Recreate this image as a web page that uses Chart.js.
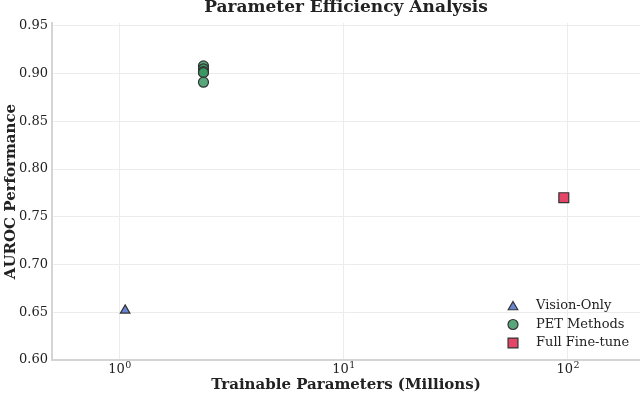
<!DOCTYPE html>
<html>
<head>
<meta charset="utf-8">
<script src="https://cdn.jsdelivr.net/npm/chart.js@4"></script>
<style>
    html, body { margin: 0; padding: 0; background: #fff; }
    #wrap { width: 640px; height: 394px; position: relative; }
</style>
</head>
<body>
<div id="wrap"><canvas id="chart"></canvas></div>
<script>
/* Parameter efficiency scatter (log x) */

const visionX = [1.06];
const visionY = [0.652];
const petX = [2.37, 2.37, 2.37, 2.37, 2.37];
const petY = [0.908, 0.905, 0.902, 0.901, 0.891];
const fullX = [96];
const fullY = [0.770];

const xTicks = [1, 10, 100];
const yTicks = [0.60, 0.65, 0.70, 0.75, 0.80, 0.85, 0.90, 0.95];

const SERIES = [
    { label: "Vision-Only", xs: visionX, ys: visionY, style: "triangle", color: "rgba(86,120,205,0.9)", radius: 5.5 },
    { label: "PET Methods", xs: petX, ys: petY, style: "circle", color: "rgba(58,152,100,0.85)", radius: 5 },
    { label: "Full Fine-tune", xs: fullX, ys: fullY, style: "rect", color: "rgba(226,60,95,0.95)", radius: 7 },
];

const SERIF = "'DejaVu Serif', serif";

function toPoints(xs, ys) {
    return xs.map((x, i) => ({ x, y: ys[i] }));
}

/* ---------- Plugins: title, x tick labels, in-plot legend ---------- */

const titlePlugin = {
    id: "topTitle",
    afterDraw(chart) {
        const { ctx, chartArea } = chart;
        ctx.save();
        ctx.font = `bold 17px ${SERIF}`;
        ctx.fillStyle = "#222";
        ctx.textAlign = "center";
        ctx.textBaseline = "alphabetic";
        ctx.fillText("Parameter Efficiency Analysis", (chartArea.left + chartArea.right) / 2, 12);
        ctx.restore();
    }
};

// powers of ten with a real superscript exponent
const logTickPlugin = {
    id: "logTicks",
    afterDraw(chart) {
        const { ctx, chartArea, scales } = chart;
        const y = chartArea.bottom + 8;
        ctx.save();
        ctx.fillStyle = "#222";
        ctx.textBaseline = "middle";
        xTicks.forEach(v => {
            const px = scales.x.getPixelForValue(v);
            const exp = String(Math.round(Math.log10(v)));
            ctx.font = `13px ${SERIF}`;
            const wBase = ctx.measureText("10").width;
            ctx.font = `9.5px ${SERIF}`;
            const wExp = ctx.measureText(exp).width;
            const x0 = px - (wBase + wExp) / 2;
            ctx.font = `13px ${SERIF}`;
            ctx.textAlign = "left";
            ctx.fillText("10", x0, y + 2);
            ctx.font = `9.5px ${SERIF}`;
            ctx.fillText(exp, x0 + wBase + 0.5, y - 2.5);
        });
        ctx.restore();
    }
};

function drawMarker(ctx, style, x, y, r) {
    ctx.beginPath();
    if (style === "triangle") {
        ctx.moveTo(x, y - r);
        ctx.lineTo(x + r * 0.866, y + r * 0.5);
        ctx.lineTo(x - r * 0.866, y + r * 0.5);
        ctx.closePath();
    } else if (style === "rect") {
        const s = r * Math.SQRT1_2;
        ctx.rect(x - s, y - s, 2 * s, 2 * s);
    } else {
        ctx.arc(x, y, r, 0, Math.PI * 2);
    }
    ctx.fill();
    ctx.stroke();
}

const legendPlugin = {
    id: "innerLegend",
    afterDraw(chart) {
        const { ctx, chartArea } = chart;
        const x0 = chartArea.right - 127;
        const rowH = 18.5;
        const yStart = chartArea.bottom - 54;
        ctx.save();
        ctx.font = `13px ${SERIF}`;
        ctx.textBaseline = "middle";
        ctx.lineWidth = 1.2;
        ctx.strokeStyle = "#333";
        SERIES.forEach((s, i) => {
            const y = yStart + i * rowH;
            ctx.fillStyle = s.color;
            drawMarker(ctx, s.style, x0, y + (s.style === "triangle" ? 1 : 0), s.radius);
            ctx.fillStyle = "#222";
            ctx.fillText(s.label, x0 + 23, y);
        });
        ctx.restore();
    }
};

/* ---------- Chart ---------- */

new Chart(document.getElementById("chart"), {
    type: "scatter",
    data: {
        datasets: SERIES.map(s => ({
            label: s.label,
            data: toPoints(s.xs, s.ys),
            pointStyle: s.style,
            pointRadius: s.radius,
            pointHoverRadius: s.radius,
            backgroundColor: s.color,
            borderColor: "#333",
            borderWidth: 1.2,
        }))
    },
    options: {
        responsive: true,
        maintainAspectRatio: false,
        animation: false,
        layout: { autoPadding: false, padding: { top: 23, right: 0, left: 0, bottom: 0 } },
        plugins: {
            legend: { display: false },
            tooltip: { enabled: false },
        },
        scales: {
            x: {
                type: "logarithmic",
                min: 0.5,
                max: 210,
                afterBuildTicks: (scale) => { scale.ticks = xTicks.map(v => ({ value: v, major: true })); },
                afterFit: (scale) => { scale.height = 34; },
                ticks: { display: false },
                grid: { color: "#ececec", lineWidth: 1, drawTicks: false },
                border: { color: "#d4d4d4", width: 2 },
                title: {
                    display: true,
                    text: "Trainable Parameters (Millions)",
                    font: { family: SERIF, size: 15, weight: "bold" },
                    color: "#222",
                    padding: { top: 0, bottom: 0 },
                },
            },
            y: {
                min: 0.6,
                max: 0.953,
                afterBuildTicks: (scale) => { scale.ticks = yTicks.map(v => ({ value: v })); },
                afterFit: (scale) => { scale.width = 52; },
                ticks: {
                    font: { family: SERIF, size: 13 },
                    color: "#222",
                    padding: 4,
                    callback: (v) => v.toFixed(2),
                },
                grid: { color: "#ececec", lineWidth: 1, drawTicks: false },
                border: { color: "#d4d4d4", width: 2 },
                title: {
                    display: true,
                    text: "AUROC Performance",
                    font: { family: SERIF, size: 15, weight: "bold" },
                    color: "#222",
                    padding: { top: 2, bottom: 0 },
                },
            }
        }
    },
    plugins: [titlePlugin, logTickPlugin, legendPlugin]
});
</script>
</body>
</html>
